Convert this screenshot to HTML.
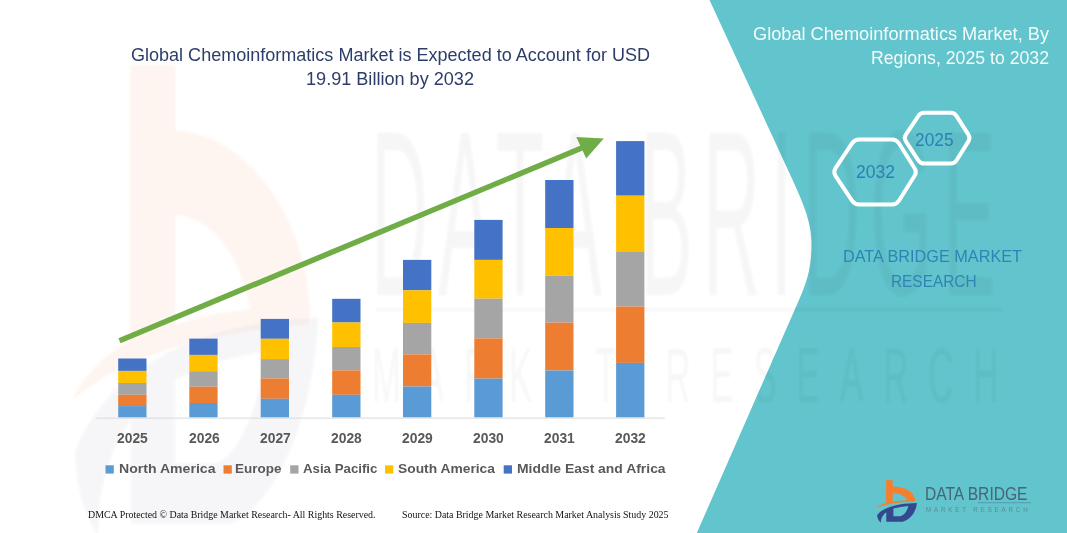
<!DOCTYPE html>
<html>
<head>
<meta charset="utf-8">
<title>Global Chemoinformatics Market</title>
<style>
html,body{margin:0;padding:0;}
body{width:1067px;height:533px;overflow:hidden;background:#ffffff;position:relative;font-family:"Liberation Sans",sans-serif;}
#stage{position:absolute;left:0;top:0;width:1067px;height:533px;overflow:hidden;background:#fff;}
svg{position:absolute;left:0;top:0;}
.t{position:absolute;white-space:nowrap;line-height:1;transform-origin:0 50%;display:inline-block;}
.title{color:#2b3d68;font-size:17.5px;}
.rt{color:#f2fcfc;font-size:17.5px;}
.yr{color:#595959;font-weight:bold;font-size:14px;}
.lg{color:#595959;font-weight:bold;font-size:13.5px;}
.ft{font-family:"Liberation Serif",serif;color:#111;font-size:9.5px;}
.hx{color:#2b80b6;font-size:18.5px;}
.dbm{color:#2e84b4;font-size:17px;}
.lt1{color:#466678;font-size:18.5px;}
.lt2{color:#5b8a98;font-size:6.4px;letter-spacing:3px;}
</style>
</head>
<body>
<div id="stage">

<!-- background shapes / watermark / chart -->
<svg id="bg" width="1067" height="533" viewBox="0 0 1067 533">
  <defs>
    <filter id="soft" x="-5%" y="-5%" width="110%" height="110%"><feGaussianBlur stdDeviation="1.2"/></filter>
  </defs>
  <!-- faint watermark b logo (stretched) -->
  <g id="wmlogo" filter="url(#soft)"><g transform="translate(31.8,-41.6) scale(6.1,13)">
    <path transform="translate(0,0.692) scale(1,0.9154)" fill="#ed7d31" opacity="0.08" fill-rule="evenodd" d="M16.1 8.2 L23.5 8.2 L23.5 13.7 C34 13.9 44.8 20 45.6 29 L45.4 30 C32 30.6 17 31.9 6.5 36.4 C9 33.9 12.5 32.4 16.1 31.4 Z M23.5 20.8 L23.5 30 C27 29.4 31 29 35.8 28.7 C34 24 29.5 21 23.5 20.8 Z"/>
    <path transform="translate(0,1.43) scale(1,0.846)" fill="#34488f" opacity="0.05" fill-rule="evenodd" d="M46.9 31 C34 31.2 14 33.5 7.1 43.2 C7.3 46.5 8.8 49 10.9 50.8 C10.6 47 12.5 43 16.3 40.3 L16.3 49.7 L32.7 49.7 C41 47.5 46.3 39 46.9 31 Z M23.4 36.6 C28 35.3 33.5 34.4 38.3 34 C37.3 39 34.5 43 30.5 44.2 L23.4 44.2 Z"/>
  </g></g>
  <!-- teal panel -->
  <path id="teal" d="M709.5 0 L1067 0 L1067 533 L696.8 533 L799 300 C808.6 278 811.5 265 811.5 243 C811.5 221 801.9 200 788 170 Z" fill="#62c4cc"/>

  <!-- faint watermark text -->
  <g id="wmtext" fill="#000" opacity="0.032" font-family="Liberation Sans, sans-serif" filter="url(#soft)">
    <text transform="translate(370.6,295) scale(0.8,2.36)" font-size="100" letter-spacing="12.4">DATA BRIDGE</text>
    <rect x="376" y="308" width="627" height="3"/>
    <text transform="translate(372,402) scale(1.15,2.6)" font-size="30" letter-spacing="17.5">MARKET RESEARCH</text>
  </g>

  <!-- axis -->
  <line x1="96.5" y1="418.1" x2="664.8" y2="418.1" stroke="#d9d9d9" stroke-width="1"/>

  <!-- bars -->
  <g id="bars">
<rect x="118.2" y="358.5" width="28.3" height="12.4" fill="#4472c4"/>
<rect x="118.2" y="370.9" width="28.3" height="12.1" fill="#ffc000"/>
<rect x="118.2" y="383.0" width="28.3" height="11.8" fill="#a5a5a5"/>
<rect x="118.2" y="394.8" width="28.3" height="11.3" fill="#ed7d31"/>
<rect x="118.2" y="406.1" width="28.3" height="11.2" fill="#5b9bd5"/>
<rect x="189.3" y="338.6" width="28.3" height="16.3" fill="#4472c4"/>
<rect x="189.3" y="354.9" width="28.3" height="16.3" fill="#ffc000"/>
<rect x="189.3" y="371.2" width="28.3" height="15.5" fill="#a5a5a5"/>
<rect x="189.3" y="386.7" width="28.3" height="16.3" fill="#ed7d31"/>
<rect x="189.3" y="403.0" width="28.3" height="14.3" fill="#5b9bd5"/>
<rect x="260.7" y="318.9" width="28.3" height="19.9" fill="#4472c4"/>
<rect x="260.7" y="338.8" width="28.3" height="20.3" fill="#ffc000"/>
<rect x="260.7" y="359.1" width="28.3" height="19.4" fill="#a5a5a5"/>
<rect x="260.7" y="378.5" width="28.3" height="20.3" fill="#ed7d31"/>
<rect x="260.7" y="398.8" width="28.3" height="18.5" fill="#5b9bd5"/>
<rect x="332.2" y="298.8" width="28.3" height="23.7" fill="#4472c4"/>
<rect x="332.2" y="322.5" width="28.3" height="24.5" fill="#ffc000"/>
<rect x="332.2" y="347.0" width="28.3" height="23.4" fill="#a5a5a5"/>
<rect x="332.2" y="370.4" width="28.3" height="24.4" fill="#ed7d31"/>
<rect x="332.2" y="394.8" width="28.3" height="22.5" fill="#5b9bd5"/>
<rect x="403.0" y="259.9" width="28.3" height="30.4" fill="#4472c4"/>
<rect x="403.0" y="290.3" width="28.3" height="32.6" fill="#ffc000"/>
<rect x="403.0" y="322.9" width="28.3" height="31.5" fill="#a5a5a5"/>
<rect x="403.0" y="354.4" width="28.3" height="32.1" fill="#ed7d31"/>
<rect x="403.0" y="386.5" width="28.3" height="30.8" fill="#5b9bd5"/>
<rect x="474.3" y="219.9" width="28.3" height="40.0" fill="#4472c4"/>
<rect x="474.3" y="259.9" width="28.3" height="38.8" fill="#ffc000"/>
<rect x="474.3" y="298.7" width="28.3" height="39.7" fill="#a5a5a5"/>
<rect x="474.3" y="338.4" width="28.3" height="40.2" fill="#ed7d31"/>
<rect x="474.3" y="378.6" width="28.3" height="38.7" fill="#5b9bd5"/>
<rect x="545.2" y="180.0" width="28.3" height="48.0" fill="#4472c4"/>
<rect x="545.2" y="228.0" width="28.3" height="47.6" fill="#ffc000"/>
<rect x="545.2" y="275.6" width="28.3" height="47.0" fill="#a5a5a5"/>
<rect x="545.2" y="322.6" width="28.3" height="47.9" fill="#ed7d31"/>
<rect x="545.2" y="370.5" width="28.3" height="46.8" fill="#5b9bd5"/>
<rect x="616.1" y="141.1" width="28.3" height="54.6" fill="#4472c4"/>
<rect x="616.1" y="195.7" width="28.3" height="56.3" fill="#ffc000"/>
<rect x="616.1" y="252.0" width="28.3" height="54.6" fill="#a5a5a5"/>
<rect x="616.1" y="306.6" width="28.3" height="56.3" fill="#ed7d31"/>
<rect x="616.1" y="362.9" width="28.3" height="54.4" fill="#5b9bd5"/>
<rect x="105.5" y="465.3" width="8.3" height="8.3" fill="#5b9bd5"/>
<rect x="223.5" y="465.3" width="8.3" height="8.3" fill="#ed7d31"/>
<rect x="290.2" y="465.3" width="8.3" height="8.3" fill="#a5a5a5"/>
<rect x="385.0" y="465.3" width="8.3" height="8.3" fill="#ffc000"/>
<rect x="503.7" y="465.3" width="8.3" height="8.3" fill="#4472c4"/>
</g>

  <!-- arrow -->
  <g id="arrow">
    <line x1="119.5" y1="340.8" x2="584" y2="147" stroke="#70ad47" stroke-width="5.5"/>
    <path d="M603.8 138.6 L576.3 137.1 L586.2 158.6 Z" fill="#70ad47"/>
  </g>

  <!-- hexagons -->
  <g fill="none" stroke="#ffffff" stroke-width="4" stroke-linejoin="round">
    <path d="M835.5 175.8 Q833.0 172.0 835.5 168.2 L852.0 143.3 Q854.5 139.5 859.0 139.5 L892.0 139.5 Q896.5 139.5 898.9 143.3 L914.6 168.2 Q917.0 172.0 914.6 175.8 L898.9 200.7 Q896.5 204.5 892.0 204.5 L859.0 204.5 Q854.5 204.5 852.0 200.7 Z"/>
    <path d="M905.9 141.3 Q903.7 138.0 905.9 134.7 L918.3 116.0 Q920.5 112.7 924.5 112.7 L950.5 112.7 Q954.5 112.7 956.6 116.1 L968.4 134.6 Q970.5 138.0 968.4 141.4 L956.6 160.2 Q954.5 163.6 950.5 163.6 L924.5 163.6 Q920.5 163.6 918.3 160.3 Z"/>
  </g>
  <!-- small logo -->
  <g transform="translate(870,472)">
    <path fill="#f57f2e" fill-rule="evenodd" d="M16.1 8.2 L22.7 8.2 L22.7 14.4 C33 14.2 44.5 19 45.4 28.6 L45.2 29.6 C32 30.2 17 31.5 6.5 36 C9 33.5 12.5 32 16.1 31 Z M22.7 21.2 L22.7 29.6 C27 29 32 28.6 37.5 28.3 C35.5 24 30 21.2 22.7 21.2 Z"/>
    <path fill="#34488f" fill-rule="evenodd" d="M46.9 31 C34 31.2 14 33.5 7.1 43.2 C7.3 46.5 8.8 49 10.9 50.8 C10.6 47 12.5 43 16.3 40.3 L16.3 49.7 L32.7 49.7 C41 47.5 46.3 39 46.9 31 Z M23.4 36.6 C28 35.3 33.5 34.4 38.3 34 C37.3 39 34.5 43 30.5 44.2 L23.4 44.2 Z"/>
  </g>
  <line x1="978.5" y1="502.7" x2="1031" y2="502.7" stroke="#4f7fa0" stroke-width="1" stroke-dasharray="1.2 0.8"/>
</svg>

<!-- titles -->
<span class="t title" id="t1" style="left:130.5px;transform:scaleX(1.0301);top:47px;">Global Chemoinformatics Market is Expected to Account for USD</span>
<span class="t title" id="t2" style="left:305.5px;transform:scaleX(1.0339);top:71px;">19.91 Billion by 2032</span>

<span class="t rt" id="r1" style="left:752.5px;transform:scaleX(1.0387);top:26px;">Global Chemoinformatics Market, By</span>
<span class="t rt" id="r2" style="left:870.5px;transform:scaleX(1.0106);top:50.3px;">Regions, 2025 to 2032</span>

<span class="t hx" id="h1" style="left:855.5px;transform:scaleX(0.9476);top:162.6px;">2032</span>
<span class="t hx" id="h2" style="left:914.5px;transform:scaleX(0.9355);top:131.2px;">2025</span>

<span class="t dbm" id="d1" style="left:842.5px;transform:scaleX(0.9555);top:248px;">DATA BRIDGE MARKET</span>
<span class="t dbm" id="d2" style="left:891px;transform:scaleX(0.9051);top:272.5px;">RESEARCH</span>

<span class="t lt1" id="g1" style="left:925px;transform:scaleX(0.8425);top:485.2px;">DATA BRIDGE</span>
<span class="t lt2" id="g2" style="left:925.5px;transform:scaleX(0.9604);top:506.6px;">MARKET RESEARCH</span>

<!-- year labels -->
<span class="t yr" id="y0" style="left:116.6px;transform:scaleX(0.9886);top:431px;">2025</span>
<span class="t yr" id="y1" style="left:188.6px;transform:scaleX(0.9886);top:431px;">2026</span>
<span class="t yr" id="y2" style="left:260.0px;transform:scaleX(0.9886);top:431px;">2027</span>
<span class="t yr" id="y3" style="left:331.2px;transform:scaleX(0.9886);top:431px;">2028</span>
<span class="t yr" id="y4" style="left:401.6px;transform:scaleX(0.9886);top:431px;">2029</span>
<span class="t yr" id="y5" style="left:472.5px;transform:scaleX(0.9886);top:431px;">2030</span>
<span class="t yr" id="y6" style="left:543.6px;transform:scaleX(0.9886);top:431px;">2031</span>
<span class="t yr" id="y7" style="left:614.7px;transform:scaleX(0.9886);top:431px;">2032</span>

<!-- legend -->
<span class="t lg" id="l0" style="left:118.5px;transform:scaleX(1.0429);top:461.6px;">North America</span>
<span class="t lg" id="l1" style="left:235.2px;transform:scaleX(0.9975);top:461.6px;">Europe</span>
<span class="t lg" id="l2" style="left:303.3px;transform:scaleX(0.9816);top:461.6px;">Asia Pacific</span>
<span class="t lg" id="l3" style="left:398px;transform:scaleX(1.0234);top:461.6px;">South America</span>
<span class="t lg" id="l4" style="left:516.6px;transform:scaleX(1.0299);top:461.6px;">Middle East and Africa</span>

<!-- footer -->
<span class="t ft" id="f1" style="left:87.5px;transform:scaleX(1.0424);top:510.6px;">DMCA Protected © Data Bridge Market Research- All Rights Reserved.</span>
<span class="t ft" id="f2" style="left:402px;transform:scaleX(1.0435);top:510.6px;">Source: Data Bridge Market Research Market Analysis Study 2025</span>

</div>
</body>
</html>
